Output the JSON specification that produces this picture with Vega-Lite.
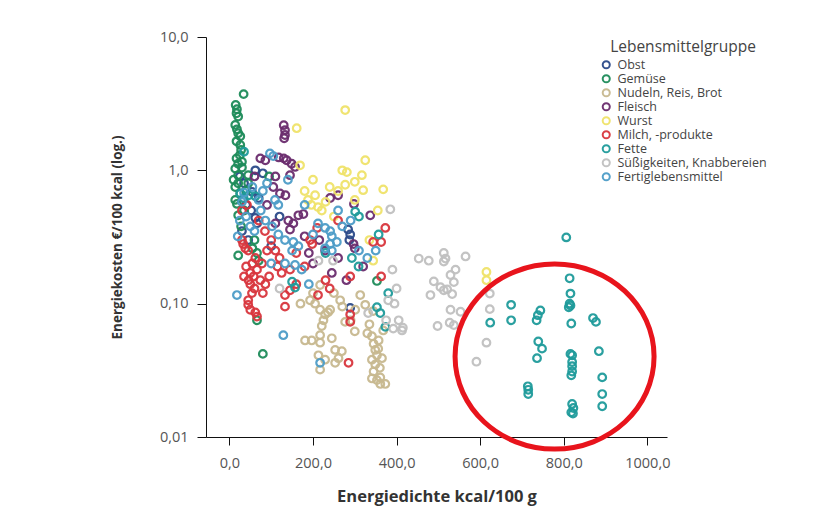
{
  "$schema": "https://vega.github.io/schema/vega-lite/v6.json",
  "autosize": "none",
  "width": 461,
  "height": 400,
  "padding": {"left": 206, "top": 37, "right": 156, "bottom": 85},
  "background": "white",
  "config": {
    "view": {"stroke": null},
    "font": "Open Sans",
    "axis": {"grid": false, "domainColor": "#111", "tickColor": "#111", "labelColor": "#555", "titleColor": "#333", "labelFontSize": 14.5, "titleFontSize": 13.5, "titleFontWeight": "bold"}
  },
  "layer": [
    {
      "data": {"values": [
{"g":"Obst","x":62,"y":1.0},{"g":"Obst","x":54,"y":0.69},{"g":"Obst","x":52,"y":0.5},{"g":"Obst","x":62,"y":0.44},{"g":"Obst","x":66,"y":0.4},{"g":"Obst","x":40,"y":0.55},{"g":"Obst","x":30,"y":0.35},{"g":"Obst","x":45,"y":0.3},{"g":"Obst","x":70,"y":0.62},{"g":"Obst","x":284,"y":0.36},{"g":"Obst","x":289,"y":0.33},{"g":"Obst","x":287,"y":0.3},{"g":"Obst","x":289,"y":0.093},{"g":"Obst","x":120,"y":0.45},{"g":"Obst","x":100,"y":0.27},{"g":"Obst","x":35,"y":0.8},{"g":"Obst","x":80,"y":0.95},{"g":"Obst","x":25,"y":0.9},
{"g":"Gemüse","x":34,"y":3.73},{"g":"Gemüse","x":15,"y":3.09},{"g":"Gemüse","x":18,"y":2.87},{"g":"Gemüse","x":17,"y":2.68},{"g":"Gemüse","x":21,"y":2.53},{"g":"Gemüse","x":14,"y":2.19},{"g":"Gemüse","x":18,"y":2.03},{"g":"Gemüse","x":21,"y":1.9},{"g":"Gemüse","x":26,"y":1.8},{"g":"Gemüse","x":17,"y":1.65},{"g":"Gemüse","x":26,"y":1.55},{"g":"Gemüse","x":28,"y":1.42},{"g":"Gemüse","x":17,"y":1.23},{"g":"Gemüse","x":21,"y":1.12},{"g":"Gemüse","x":30,"y":1.16},{"g":"Gemüse","x":14,"y":1.03},{"g":"Gemüse","x":21,"y":0.92},{"g":"Gemüse","x":45,"y":0.92},{"g":"Gemüse","x":21,"y":0.8},{"g":"Gemüse","x":45,"y":0.8},{"g":"Gemüse","x":26,"y":0.67},{"g":"Gemüse","x":14,"y":0.75},{"g":"Gemüse","x":18,"y":0.56},{"g":"Gemüse","x":21,"y":0.46},{"g":"Gemüse","x":66,"y":0.24},{"g":"Gemüse","x":70,"y":0.21},{"g":"Gemüse","x":21,"y":0.23},{"g":"Gemüse","x":66,"y":0.075},{"g":"Gemüse","x":80,"y":0.042},{"g":"Gemüse","x":353,"y":0.148},{"g":"Gemüse","x":25,"y":1.3},{"g":"Gemüse","x":30,"y":1.05},{"g":"Gemüse","x":40,"y":0.7},{"g":"Gemüse","x":14,"y":0.6},{"g":"Gemüse","x":28,"y":0.38},{"g":"Gemüse","x":35,"y":0.5},{"g":"Gemüse","x":10,"y":0.85},{"g":"Gemüse","x":60,"y":0.3},{"g":"Gemüse","x":55,"y":0.26},{"g":"Gemüse","x":95,"y":0.9},
{"g":"Nudeln, Reis, Brot","x":193,"y":0.106},{"g":"Nudeln, Reis, Brot","x":205,"y":0.1},{"g":"Nudeln, Reis, Brot","x":217,"y":0.09},{"g":"Nudeln, Reis, Brot","x":229,"y":0.083},{"g":"Nudeln, Reis, Brot","x":236,"y":0.086},{"g":"Nudeln, Reis, Brot","x":181,"y":0.053},{"g":"Nudeln, Reis, Brot","x":225,"y":0.075},{"g":"Nudeln, Reis, Brot","x":221,"y":0.068},{"g":"Nudeln, Reis, Brot","x":217,"y":0.058},{"g":"Nudeln, Reis, Brot","x":197,"y":0.053},{"g":"Nudeln, Reis, Brot","x":217,"y":0.051},{"g":"Nudeln, Reis, Brot","x":245,"y":0.055},{"g":"Nudeln, Reis, Brot","x":253,"y":0.045},{"g":"Nudeln, Reis, Brot","x":269,"y":0.044},{"g":"Nudeln, Reis, Brot","x":261,"y":0.039},{"g":"Nudeln, Reis, Brot","x":213,"y":0.041},{"g":"Nudeln, Reis, Brot","x":229,"y":0.038},{"g":"Nudeln, Reis, Brot","x":253,"y":0.036},{"g":"Nudeln, Reis, Brot","x":217,"y":0.032},{"g":"Nudeln, Reis, Brot","x":341,"y":0.057},{"g":"Nudeln, Reis, Brot","x":345,"y":0.05},{"g":"Nudeln, Reis, Brot","x":349,"y":0.045},{"g":"Nudeln, Reis, Brot","x":353,"y":0.041},{"g":"Nudeln, Reis, Brot","x":341,"y":0.038},{"g":"Nudeln, Reis, Brot","x":349,"y":0.035},{"g":"Nudeln, Reis, Brot","x":345,"y":0.031},{"g":"Nudeln, Reis, Brot","x":341,"y":0.0275},{"g":"Nudeln, Reis, Brot","x":353,"y":0.0267},{"g":"Nudeln, Reis, Brot","x":361,"y":0.025},{"g":"Nudeln, Reis, Brot","x":373,"y":0.025},{"g":"Nudeln, Reis, Brot","x":361,"y":0.028},{"g":"Nudeln, Reis, Brot","x":356,"y":0.046},{"g":"Nudeln, Reis, Brot","x":368,"y":0.063},{"g":"Nudeln, Reis, Brot","x":325,"y":0.098},{"g":"Nudeln, Reis, Brot","x":344,"y":0.088},{"g":"Nudeln, Reis, Brot","x":313,"y":0.116},{"g":"Nudeln, Reis, Brot","x":265,"y":0.106},{"g":"Nudeln, Reis, Brot","x":301,"y":0.09},{"g":"Nudeln, Reis, Brot","x":277,"y":0.073},{"g":"Nudeln, Reis, Brot","x":241,"y":0.09},{"g":"Nudeln, Reis, Brot","x":217,"y":0.138},{"g":"Nudeln, Reis, Brot","x":290,"y":0.075},{"g":"Nudeln, Reis, Brot","x":335,"y":0.07},{"g":"Nudeln, Reis, Brot","x":360,"y":0.033},{"g":"Nudeln, Reis, Brot","x":365,"y":0.039},{"g":"Nudeln, Reis, Brot","x":357,"y":0.053},{"g":"Nudeln, Reis, Brot","x":330,"y":0.06},{"g":"Nudeln, Reis, Brot","x":300,"y":0.062},{"g":"Nudeln, Reis, Brot","x":250,"y":0.12},{"g":"Nudeln, Reis, Brot","x":200,"y":0.12},{"g":"Nudeln, Reis, Brot","x":270,"y":0.095},{"g":"Nudeln, Reis, Brot","x":170,"y":0.1},
{"g":"Fleisch","x":130,"y":2.18},{"g":"Fleisch","x":133,"y":2.0},{"g":"Fleisch","x":133,"y":1.84},{"g":"Fleisch","x":131,"y":1.74},{"g":"Fleisch","x":74,"y":1.23},{"g":"Fleisch","x":86,"y":1.19},{"g":"Fleisch","x":118,"y":1.25},{"g":"Fleisch","x":130,"y":1.23},{"g":"Fleisch","x":137,"y":1.19},{"g":"Fleisch","x":149,"y":1.12},{"g":"Fleisch","x":157,"y":1.06},{"g":"Fleisch","x":121,"y":0.67},{"g":"Fleisch","x":134,"y":0.65},{"g":"Fleisch","x":141,"y":0.42},{"g":"Fleisch","x":153,"y":0.4},{"g":"Fleisch","x":165,"y":0.46},{"g":"Fleisch","x":177,"y":0.47},{"g":"Fleisch","x":145,"y":0.36},{"g":"Fleisch","x":241,"y":0.62},{"g":"Fleisch","x":260,"y":0.65},{"g":"Fleisch","x":337,"y":0.46},{"g":"Fleisch","x":298,"y":0.56},{"g":"Fleisch","x":229,"y":0.25},{"g":"Fleisch","x":190,"y":0.24},{"g":"Fleisch","x":200,"y":0.2},{"g":"Fleisch","x":260,"y":0.22},{"g":"Fleisch","x":300,"y":0.26},{"g":"Fleisch","x":320,"y":0.19},{"g":"Fleisch","x":60,"y":0.9},{"g":"Fleisch","x":110,"y":0.9},{"g":"Fleisch","x":145,"y":0.92},{"g":"Fleisch","x":105,"y":0.75},{"g":"Fleisch","x":90,"y":0.55},{"g":"Fleisch","x":297,"y":0.28},{"g":"Fleisch","x":180,"y":0.32},{"g":"Fleisch","x":215,"y":0.3},{"g":"Fleisch","x":245,"y":0.17},{"g":"Fleisch","x":110,"y":0.4},{"g":"Fleisch","x":280,"y":0.15},
{"g":"Wurst","x":277,"y":2.83},{"g":"Wurst","x":161,"y":2.07},{"g":"Wurst","x":325,"y":1.19},{"g":"Wurst","x":270,"y":1.0},{"g":"Wurst","x":281,"y":0.97},{"g":"Wurst","x":317,"y":0.92},{"g":"Wurst","x":169,"y":1.09},{"g":"Wurst","x":188,"y":0.6},{"g":"Wurst","x":196,"y":0.55},{"g":"Wurst","x":205,"y":0.65},{"g":"Wurst","x":212,"y":0.53},{"g":"Wurst","x":221,"y":0.5},{"g":"Wurst","x":277,"y":0.78},{"g":"Wurst","x":320,"y":0.71},{"g":"Wurst","x":368,"y":0.72},{"g":"Wurst","x":300,"y":0.82},{"g":"Wurst","x":240,"y":0.75},{"g":"Wurst","x":260,"y":0.7},{"g":"Wurst","x":344,"y":0.21},{"g":"Wurst","x":615,"y":0.173},{"g":"Wurst","x":615,"y":0.15},{"g":"Wurst","x":180,"y":0.7},{"g":"Wurst","x":230,"y":0.58},{"g":"Wurst","x":355,"y":0.5},{"g":"Wurst","x":300,"y":0.6},{"g":"Wurst","x":250,"y":0.45},{"g":"Wurst","x":335,"y":0.3},{"g":"Wurst","x":200,"y":0.85},
{"g":"Milch, -produkte","x":42,"y":0.55},{"g":"Milch, -produkte","x":30,"y":0.5},{"g":"Milch, -produkte","x":30,"y":0.3},{"g":"Milch, -produkte","x":33,"y":0.28},{"g":"Milch, -produkte","x":38,"y":0.26},{"g":"Milch, -produkte","x":45,"y":0.25},{"g":"Milch, -produkte","x":54,"y":0.12},{"g":"Milch, -produkte","x":46,"y":0.15},{"g":"Milch, -produkte","x":50,"y":0.14},{"g":"Milch, -produkte","x":58,"y":0.16},{"g":"Milch, -produkte","x":66,"y":0.18},{"g":"Milch, -produkte","x":74,"y":0.15},{"g":"Milch, -produkte","x":86,"y":0.14},{"g":"Milch, -produkte","x":95,"y":0.16},{"g":"Milch, -produkte","x":45,"y":0.106},{"g":"Milch, -produkte","x":45,"y":0.098},{"g":"Milch, -produkte","x":50,"y":0.09},{"g":"Milch, -produkte","x":62,"y":0.086},{"g":"Milch, -produkte","x":66,"y":0.08},{"g":"Milch, -produkte","x":133,"y":0.116},{"g":"Milch, -produkte","x":133,"y":0.095},{"g":"Milch, -produkte","x":145,"y":0.126},{"g":"Milch, -produkte","x":289,"y":0.083},{"g":"Milch, -produkte","x":289,"y":0.073},{"g":"Milch, -produkte","x":212,"y":0.116},{"g":"Milch, -produkte","x":285,"y":0.036},{"g":"Milch, -produkte","x":260,"y":0.42},{"g":"Milch, -produkte","x":193,"y":0.3},{"g":"Milch, -produkte","x":198,"y":0.28},{"g":"Milch, -produkte","x":373,"y":0.37},{"g":"Milch, -produkte","x":344,"y":0.29},{"g":"Milch, -produkte","x":363,"y":0.29},{"g":"Milch, -produkte","x":363,"y":0.16},{"g":"Milch, -produkte","x":289,"y":0.16},{"g":"Milch, -produkte","x":100,"y":0.3},{"g":"Milch, -produkte","x":110,"y":0.25},{"g":"Milch, -produkte","x":120,"y":0.22},{"g":"Milch, -produkte","x":115,"y":0.19},{"g":"Milch, -produkte","x":125,"y":0.17},{"g":"Milch, -produkte","x":145,"y":0.18},{"g":"Milch, -produkte","x":160,"y":0.14},{"g":"Milch, -produkte","x":180,"y":0.19},{"g":"Milch, -produkte","x":230,"y":0.15},{"g":"Milch, -produkte","x":240,"y":0.13},{"g":"Milch, -produkte","x":85,"y":0.35},{"g":"Milch, -produkte","x":70,"y":0.42},{"g":"Milch, -produkte","x":55,"y":0.2},{"g":"Milch, -produkte","x":62,"y":0.22},{"g":"Milch, -produkte","x":78,"y":0.2},{"g":"Milch, -produkte","x":40,"y":0.19},{"g":"Milch, -produkte","x":35,"y":0.16},{"g":"Milch, -produkte","x":50,"y":0.17},{"g":"Milch, -produkte","x":90,"y":0.25},{"g":"Milch, -produkte","x":60,"y":0.13},{"g":"Milch, -produkte","x":80,"y":0.12},{"g":"Milch, -produkte","x":210,"y":0.37},{"g":"Milch, -produkte","x":160,"y":0.24},
{"g":"Fette","x":806,"y":0.314},{"g":"Fette","x":814,"y":0.155},{"g":"Fette","x":816,"y":0.119},{"g":"Fette","x":814,"y":0.1},{"g":"Fette","x":816,"y":0.097},{"g":"Fette","x":812,"y":0.094},{"g":"Fette","x":674,"y":0.098},{"g":"Fette","x":674,"y":0.075},{"g":"Fette","x":624,"y":0.072},{"g":"Fette","x":744,"y":0.089},{"g":"Fette","x":738,"y":0.082},{"g":"Fette","x":735,"y":0.075},{"g":"Fette","x":818,"y":0.071},{"g":"Fette","x":870,"y":0.078},{"g":"Fette","x":877,"y":0.073},{"g":"Fette","x":739,"y":0.052},{"g":"Fette","x":748,"y":0.046},{"g":"Fette","x":736,"y":0.039},{"g":"Fette","x":816,"y":0.042},{"g":"Fette","x":820,"y":0.041},{"g":"Fette","x":820,"y":0.0365},{"g":"Fette","x":820,"y":0.034},{"g":"Fette","x":820,"y":0.031},{"g":"Fette","x":818,"y":0.029},{"g":"Fette","x":884,"y":0.044},{"g":"Fette","x":892,"y":0.028},{"g":"Fette","x":892,"y":0.021},{"g":"Fette","x":892,"y":0.017},{"g":"Fette","x":714,"y":0.024},{"g":"Fette","x":715,"y":0.0226},{"g":"Fette","x":715,"y":0.021},{"g":"Fette","x":820,"y":0.0177},{"g":"Fette","x":823,"y":0.0165},{"g":"Fette","x":818,"y":0.0153},{"g":"Fette","x":822,"y":0.015},{"g":"Fette","x":150,"y":0.146},{"g":"Fette","x":157,"y":0.132},{"g":"Fette","x":357,"y":0.33},{"g":"Fette","x":293,"y":0.22},{"g":"Fette","x":309,"y":0.19},{"g":"Fette","x":353,"y":0.094},{"g":"Fette","x":361,"y":0.085},{"g":"Fette","x":373,"y":0.067},{"g":"Fette","x":301,"y":0.49},{"g":"Fette","x":35,"y":1.38},{"g":"Fette","x":26,"y":0.67},{"g":"Fette","x":34,"y":0.62},{"g":"Fette","x":62,"y":0.64},{"g":"Fette","x":46,"y":0.65},{"g":"Fette","x":380,"y":0.12},{"g":"Fette","x":310,"y":0.45},{"g":"Fette","x":230,"y":0.24},
{"g":"Süßigkeiten, Knabbereien","x":453,"y":0.218},{"g":"Süßigkeiten, Knabbereien","x":477,"y":0.21},{"g":"Süßigkeiten, Knabbereien","x":513,"y":0.24},{"g":"Süßigkeiten, Knabbereien","x":517,"y":0.218},{"g":"Süßigkeiten, Knabbereien","x":513,"y":0.207},{"g":"Süßigkeiten, Knabbereien","x":565,"y":0.226},{"g":"Süßigkeiten, Knabbereien","x":541,"y":0.18},{"g":"Süßigkeiten, Knabbereien","x":529,"y":0.164},{"g":"Süßigkeiten, Knabbereien","x":537,"y":0.145},{"g":"Süßigkeiten, Knabbereien","x":489,"y":0.147},{"g":"Süßigkeiten, Knabbereien","x":505,"y":0.133},{"g":"Süßigkeiten, Knabbereien","x":521,"y":0.128},{"g":"Süßigkeiten, Knabbereien","x":513,"y":0.126},{"g":"Süßigkeiten, Knabbereien","x":481,"y":0.116},{"g":"Süßigkeiten, Knabbereien","x":533,"y":0.118},{"g":"Süßigkeiten, Knabbereien","x":529,"y":0.09},{"g":"Süßigkeiten, Knabbereien","x":553,"y":0.087},{"g":"Süßigkeiten, Knabbereien","x":623,"y":0.119},{"g":"Süßigkeiten, Knabbereien","x":623,"y":0.091},{"g":"Süßigkeiten, Knabbereien","x":527,"y":0.072},{"g":"Süßigkeiten, Knabbereien","x":537,"y":0.069},{"g":"Süßigkeiten, Knabbereien","x":498,"y":0.068},{"g":"Süßigkeiten, Knabbereien","x":415,"y":0.066},{"g":"Süßigkeiten, Knabbereien","x":615,"y":0.051},{"g":"Süßigkeiten, Knabbereien","x":591,"y":0.0367},{"g":"Süßigkeiten, Knabbereien","x":385,"y":0.51},{"g":"Süßigkeiten, Knabbereien","x":390,"y":0.18},{"g":"Süßigkeiten, Knabbereien","x":392,"y":0.065},{"g":"Süßigkeiten, Knabbereien","x":413,"y":0.063},{"g":"Süßigkeiten, Knabbereien","x":380,"y":0.106},{"g":"Süßigkeiten, Knabbereien","x":332,"y":0.085},{"g":"Süßigkeiten, Knabbereien","x":213,"y":0.21},{"g":"Süßigkeiten, Knabbereien","x":248,"y":0.21},{"g":"Süßigkeiten, Knabbereien","x":120,"y":0.13},{"g":"Süßigkeiten, Knabbereien","x":400,"y":0.13},{"g":"Süßigkeiten, Knabbereien","x":395,"y":0.1},{"g":"Süßigkeiten, Knabbereien","x":375,"y":0.075},{"g":"Süßigkeiten, Knabbereien","x":405,"y":0.075},
{"g":"Fertiglebensmittel","x":97,"y":1.34},{"g":"Fertiglebensmittel","x":105,"y":1.28},{"g":"Fertiglebensmittel","x":70,"y":0.6},{"g":"Fertiglebensmittel","x":109,"y":0.6},{"g":"Fertiglebensmittel","x":117,"y":0.55},{"g":"Fertiglebensmittel","x":86,"y":0.42},{"g":"Fertiglebensmittel","x":102,"y":0.38},{"g":"Fertiglebensmittel","x":117,"y":0.33},{"g":"Fertiglebensmittel","x":133,"y":0.3},{"g":"Fertiglebensmittel","x":153,"y":0.29},{"g":"Fertiglebensmittel","x":165,"y":0.27},{"g":"Fertiglebensmittel","x":133,"y":0.2},{"g":"Fertiglebensmittel","x":157,"y":0.195},{"g":"Fertiglebensmittel","x":173,"y":0.18},{"g":"Fertiglebensmittel","x":30,"y":0.58},{"g":"Fertiglebensmittel","x":40,"y":0.45},{"g":"Fertiglebensmittel","x":50,"y":0.38},{"g":"Fertiglebensmittel","x":212,"y":0.4},{"g":"Fertiglebensmittel","x":229,"y":0.37},{"g":"Fertiglebensmittel","x":241,"y":0.35},{"g":"Fertiglebensmittel","x":245,"y":0.32},{"g":"Fertiglebensmittel","x":257,"y":0.29},{"g":"Fertiglebensmittel","x":241,"y":0.28},{"g":"Fertiglebensmittel","x":229,"y":0.26},{"g":"Fertiglebensmittel","x":245,"y":0.25},{"g":"Fertiglebensmittel","x":18,"y":0.116},{"g":"Fertiglebensmittel","x":129,"y":0.058},{"g":"Fertiglebensmittel","x":217,"y":0.036},{"g":"Fertiglebensmittel","x":20,"y":0.32},{"g":"Fertiglebensmittel","x":60,"y":0.35},{"g":"Fertiglebensmittel","x":80,"y":0.7},{"g":"Fertiglebensmittel","x":90,"y":0.8},{"g":"Fertiglebensmittel","x":150,"y":0.25},{"g":"Fertiglebensmittel","x":200,"y":0.33},{"g":"Fertiglebensmittel","x":270,"y":0.38},{"g":"Fertiglebensmittel","x":310,"y":0.25},{"g":"Fertiglebensmittel","x":330,"y":0.22},{"g":"Fertiglebensmittel","x":25,"y":0.42},{"g":"Fertiglebensmittel","x":35,"y":0.68},{"g":"Fertiglebensmittel","x":55,"y":0.75},{"g":"Fertiglebensmittel","x":75,"y":0.5},{"g":"Fertiglebensmittel","x":140,"y":0.85},{"g":"Fertiglebensmittel","x":180,"y":0.55},{"g":"Fertiglebensmittel","x":260,"y":0.5},{"g":"Fertiglebensmittel","x":290,"y":0.42},{"g":"Fertiglebensmittel","x":350,"y":0.25},{"g":"Fertiglebensmittel","x":100,"y":0.2},{"g":"Fertiglebensmittel","x":190,"y":0.14}
      ]},
      "mark": {"type": "point", "shape": "circle", "filled": false, "size": 58, "strokeWidth": 2.2, "opacity": 0.95},
      "encoding": {
        "x": {"field": "x", "type": "quantitative", "scale": {"domain": [-56, 1047], "nice": false, "zero": false},
          "axis": {"values": [0, 200, 400, 600, 800, 1000], "labelExpr": "replace(format(datum.value, '.1f'), '.', ',')", "tickSize": 8, "labelPadding": 11, "title": "Energiedichte kcal/100 g", "titleFontSize": 16.5, "titlePadding": 19, "labelFlush": false}},
        "y": {"field": "y", "type": "quantitative", "scale": {"type": "log", "domain": [0.01, 10], "nice": false},
          "axis": {"values": [0.01, 0.1, 1, 10], "labelExpr": "datum.value >= 9 ? '10,0' : datum.value >= 0.9 ? '1,0' : datum.value >= 0.09 ? '0,10' : '0,01'", "tickSize": 9, "labelPadding": 9, "title": "Energiekosten €/100 kcal (log.)", "titlePadding": 35, "labelFlush": false}},
        "color": {"field": "g", "type": "nominal", "sort": null,
          "scale": {"domain": ["Obst", "Gemüse", "Nudeln, Reis, Brot", "Fleisch", "Wurst", "Milch, -produkte", "Fette", "Süßigkeiten, Knabbereien", "Fertiglebensmittel"],
            "range": ["#2b4a8a", "#1e8c5a", "#c8b990", "#6b2d6e", "#f0e36a", "#d9363e", "#1f9b9b", "#c0c0c0", "#4d9dc8"]},
          "legend": {"title": "Lebensmittelgruppe", "orient": "none", "legendX": 394, "legendY": 3, "titleFontSize": 15.5, "titleFontWeight": "normal", "titleColor": "#444", "titleAnchor": "middle", "titlePadding": 3, "labelFontSize": 12.5, "labelColor": "#444", "symbolType": "circle", "symbolFillColor": "transparent", "symbolStrokeWidth": 2, "symbolSize": 50, "rowPadding": -4, "labelOffset": 5}
        }
      }
    },
    {
      "data": {"values": [{"x": 778, "y": 0.0401}]},
      "mark": {"type": "point", "shape": "M -1 0 A 1 0.93 0 1 1 1 0 A 1 0.93 0 1 1 -1 0 Z", "size": 39600, "filled": false, "stroke": "#e8141c", "strokeWidth": 5, "opacity": 1},
      "encoding": {
        "x": {"field": "x", "type": "quantitative"},
        "y": {"field": "y", "type": "quantitative"}
      }
    }
  ]
}
